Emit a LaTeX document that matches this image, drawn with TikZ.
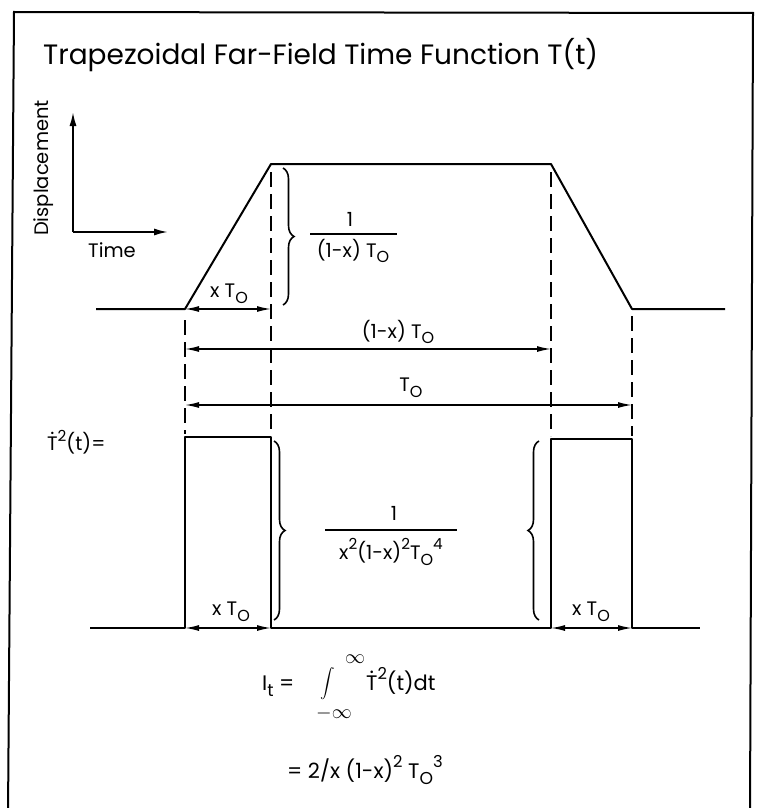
\documentclass[tikz,border=0pt]{standalone}
\usepackage{fontspec}
\setmainfont{Poppins}
\usetikzlibrary{arrows.meta,decorations.pathreplacing}
\newcommand\Tdot{\leavevmode\hbox{\ooalign{T\cr\hidewidth\raisebox{0.8em}{.}\hidewidth\cr}}}
\newcommand\sps[1]{\raisebox{0.48em}{\scalebox{0.78}{#1}}}
\newcommand\sbs[1]{\raisebox{-0.3em}{\scalebox{0.82}{#1}}}
\newcommand\TO{T\sbs{O}}
\tikzset{
  frame/.style={line width=2pt},
  curve/.style={line width=2pt, line join=round},
  dashline/.style={line width=1.8pt, dash pattern=on 15pt off 7pt},
  dim/.style={line width=1.4pt, {Latex[length=14pt,width=6pt]}-{Latex[length=14pt,width=6pt]}},
  axis/.style={line width=1.8pt, -{Latex[length=14pt,width=7pt]}},
  brc/.style={line width=1.6pt, decorate, decoration={brace, amplitude=11pt}},
  lbl/.style={font=\fontsize{19.5}{21}\selectfont, inner sep=0pt},
  eqn/.style={font=\fontsize{21}{23}\selectfont, inner sep=0pt},
  ttl/.style={font=\fontsize{28}{30}\selectfont, inner sep=0pt},
}
\begin{document}
\begin{tikzpicture}[x=1pt,y=-1pt]
\useasboundingbox (0,0) rectangle (757,808);
% frame
\coordinate (FL) at (8,815); \coordinate (FTL) at (14,12);
\coordinate (FTR) at (753,13); \coordinate (FR) at (750,815);
\draw[frame] (FL) -- (FTL) -- (FTR) -- (FR);
% title
\node[ttl, anchor=base west] (title) at (43,64) {Trapezoidal Far-Field Time Function T(t)};
% axes icon
\coordinate (ax0) at (73,232); \coordinate (axy) at (73,112); \coordinate (axx) at (168,232);
\draw[axis] (ax0) -- (axy);
\draw[axis] (ax0) -- (axx);
\node[lbl, rotate=90] (disp) at (44,168) {Displacement};
\node[lbl] (time) at (112,250) {Time};
% trapezoid
\coordinate (L0) at (96,309); \coordinate (A) at (185,309); \coordinate (B) at (271,164);
\coordinate (C) at (551,164); \coordinate (D) at (632,309); \coordinate (R0) at (725,309);
\draw[curve] (L0) -- (A) -- (B) -- (C) -- (D) -- (R0);
% dashed guides
\coordinate (d1t) at (185,320); \coordinate (d1b) at (185,434);
\coordinate (d2t) at (271,172); \coordinate (d2b) at (271,434);
\coordinate (d3t) at (551,172); \coordinate (d3b) at (551,436);
\coordinate (d4t) at (632,316); \coordinate (d4b) at (632,436);
\draw[dashline] (d1t) -- (d1b);
\draw[dashline] (d2t) -- (d2b);
\draw[dashline] (d3t) -- (d3b);
\draw[dashline] (d4t) -- (d4b);
% dimension arrows (upper)
\coordinate (a1l) at (185,309); \coordinate (a1r) at (271,309);
\coordinate (a2l) at (185,349); \coordinate (a2r) at (551,349);
\coordinate (a3l) at (185,405); \coordinate (a3r) at (632,405);
\draw[dim] (a1l) -- (a1r);
\draw[dim] (a2l) -- (a2r);
\draw[dim] (a3l) -- (a3r);
\node[lbl] (lx1) at (229,294) {x \TO};
\node[lbl] (lx2) at (398,332) {(1-x) \TO};
\node[lbl] (lx3) at (411,388) {\TO};
% brace and fraction 1
\coordinate (b1t) at (283,168); \coordinate (b1b) at (283,305);
\draw[brc] (b1t) -- (b1b);
\node[lbl] (num1) at (350,219) {1};
\coordinate (f1l) at (310,234); \coordinate (f1r) at (397,234);
\draw[line width=1.4pt] (f1l) -- (f1r);
\node[lbl] (den1) at (353,251) {(1-x) \TO};
% T-dot squared label
\node[lbl, anchor=west] (tdot) at (47,442) {\Tdot\sps{2}(t)=};
% pulses
\coordinate (P0) at (90,628); \coordinate (P1) at (185,628); \coordinate (P2) at (185,437);
\coordinate (P3) at (271,437); \coordinate (P4) at (271,628); \coordinate (P5) at (551,628);
\coordinate (P6) at (551,439); \coordinate (P7) at (632,439); \coordinate (P8) at (632,628);
\coordinate (P9) at (700,628);
\draw[curve] (P0) -- (P1) -- (P2) -- (P3) -- (P4) -- (P5) -- (P6) -- (P7) -- (P8) -- (P9);
% lower dimension arrows
\draw[dim] (P1) -- (P4);
\draw[dim] (P5) -- (P8);
\node[lbl] (lx4) at (231,612) {x \TO};
\node[lbl] (lx5) at (591,612) {x \TO};
% braces and fraction 2
\coordinate (b2t) at (274,441); \coordinate (b2b) at (274,620);
\draw[brc] (b2t) -- (b2b);
\coordinate (b3b) at (539,620); \coordinate (b3t) at (539,441);
\draw[brc] (b3b) -- (b3t);
\node[lbl] (num2) at (394,513) {1};
\coordinate (f2l) at (325,530); \coordinate (f2r) at (457,530);
\draw[line width=1.4pt] (f2l) -- (f2r);
\node[lbl] (den2) at (391,552) {x\sps{2}(1-x)\sps{2}\TO\sps{4}};
% integral
\node[eqn, anchor=base west] (It) at (262,690) {{\rmfamily I}\sbs{t} =};
\node[inner sep=0pt] (int) at (328,684) {\scalebox{1.45}{$\displaystyle\int$}};
\node[inner sep=0pt] (inft) at (355,659) {\scalebox{2}{$\infty$}};
\node[inner sep=0pt] (infb) at (334,713) {\scalebox{2}{$-\infty$}};
\node[eqn, anchor=base west] (intg) at (366,690) {\Tdot\sps{2}(t)dt};
\node[eqn, anchor=base west] (res) at (287,778) {= 2/x (1-x)\sps{2} \TO\sps{3}};
\end{tikzpicture}
\end{document}
